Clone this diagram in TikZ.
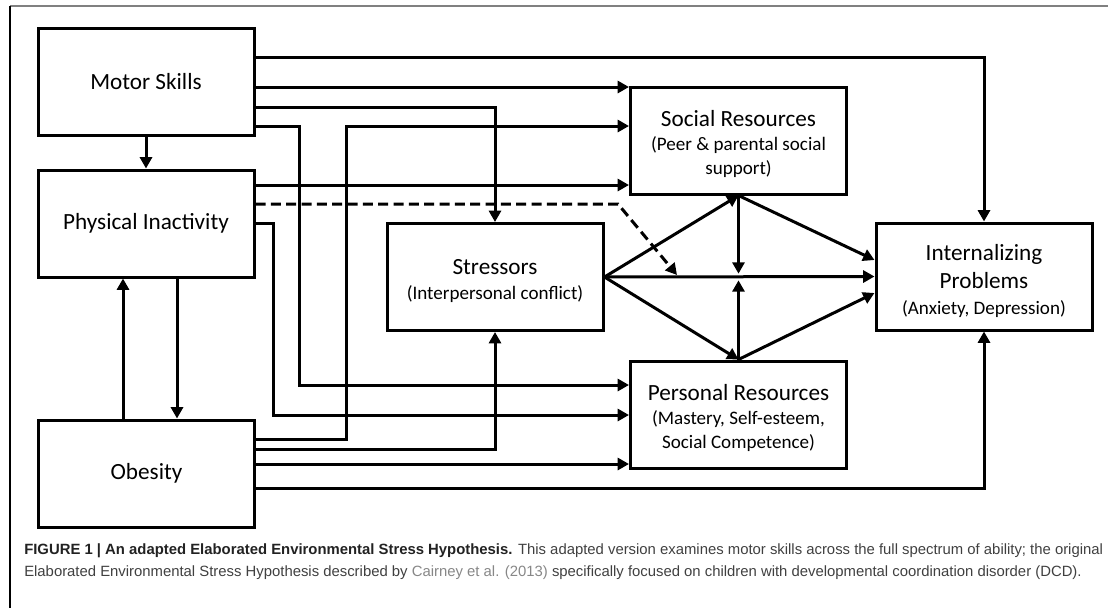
\documentclass[tikz,border=0pt]{standalone}
\usepackage{fontspec}
\setmainfont{Carlito}
\newfontfamily\capfont{Liberation Sans}
\usetikzlibrary{arrows.meta,calc}
\definecolor{framegray}{RGB}{128,128,128}
\definecolor{captext}{RGB}{64,64,64}
\definecolor{capbold}{RGB}{34,34,34}
\definecolor{citegray}{RGB}{135,135,135}
\newcommand\boxtitle{\fontsize{17.4}{20.5}\selectfont}
\newcommand\boxsub{\fontsize{14.3}{17.6}\selectfont}
% extra room above the first line of a multi-line box
\newcommand\toproom[1]{\rule{0pt}{#1}}

\begin{document}
\begin{tikzpicture}[x=0.75pt,y=-0.75pt,
  box/.style={draw, line width=2.25pt, minimum width=162pt, minimum height=80.25pt,
              align=center, inner sep=0pt, font=\boxsub},
  link/.style={line width=2.25pt},
  arr/.style={link, -{Triangle[length=8.5pt,width=9pt]}},
  moderator/.style={arr, dash pattern=on 7.5pt off 4pt}
]
\useasboundingbox (0,0) rectangle (1108,608);

% frame of the figure panel
\draw[framegray, line width=1.5pt] (10,6) -- (1108,6);
\draw[black, line width=0.9pt] (10,6) -- (10,608);

% boxes
\node[box] (ms) at (146,81.5)  {\boxtitle Motor Skills};
\node[box] (pi) at (146,223.5) {\boxtitle Physical Inactivity};
\node[box] (ob) at (146.5,473.5) {\boxtitle Obesity};
\node[box] (st) at (495,277)   {\boxtitle\toproom{17pt}Stressors\\[1.5pt] (Interpersonal conflict)};
\node[box] (sr) at (738.5,140.5) {\boxtitle\toproom{17pt}Social Resources\\[0.5pt] (Peer \& parental social\\ support)};
\node[box] (pr) at (738.5,414.5) {\boxtitle\toproom{17pt}Personal Resources\\[0.5pt] (Mastery, Self-esteem,\\ Social Competence)};
\node[box] (ip) at (984,276.5)  {\boxtitle\toproom{19pt}Internalizing\\[3pt] \boxtitle Problems\\[2pt] (Anxiety, Depression)};

% points on the stressor path
\coordinate (mid) at (sr.south |- st.east);
\coordinate (dashend) at (677,275);

% motor skills
\draw[arr] (ms.south) -- (pi.north);
\draw[arr] (ms.east |- 0,57) -| (ip.north);
\draw[arr] (ms.east |- 0,87) -- (sr.west |- 0,87);
\draw[arr] (ms.east |- 0,107) -| (st.north);
\draw[arr] (ms.east |- 0,126) -| (299,385) -- (pr.west |- 0,385);

% physical inactivity
\draw[arr] (pi.east |- 0,185) -- (sr.west |- 0,185);
\draw[moderator] (pi.east |- 0,204) -- (618,204) -- (dashend);
\draw[arr] (pi.east |- 0,223) -| (273,415) -- (pr.west |- 0,415);
\draw[arr] (pi.south -| 177,0) -- (ob.north -| 177,0);

% obesity
\draw[arr] (ob.north -| 123,0) -- (pi.south -| 123,0);
\draw[arr] (ob.east |- 0,439) -| (346,126) -- (sr.west |- 0,126);
\draw[arr] (ob.east |- 0,449) -| (st.south);
\draw[arr] (ob.east |- 0,464) -- (pr.west |- 0,464);
\draw[arr] (ob.east |- 0,488) -| (ip.south);

% stressors and resources
\draw[arr] (st.east) -- (sr.south);
\draw[arr] (st.east) -- (ip.west);
\draw[arr] (st.east) -- (pr.north);
\draw[arr] (sr.south) -- (ip.west |- 0,260);
\draw[arr] (pr.north) -- (ip.west |- 0,293);
\draw[arr, shorten >=2.5pt] (sr.south) -- (mid);
\draw[arr, shorten >=2.5pt] (pr.north) -- (mid);

% caption
\node[anchor=base west, align=left, inner sep=0pt, text=captext,
      font=\capfont\fontsize{11.15}{16}\selectfont] (caption) at (24,576)
  {{\bfseries\color{capbold}FIGURE 1 | An adapted Elaborated Environmental Stress Hypothesis.} This adapted version examines motor skills across the full spectrum of ability; the original\\
   Elaborated Environmental Stress Hypothesis described by {\color{citegray}Cairney et al. (2013)} specifically focused on children with developmental coordination disorder (DCD).};
\end{tikzpicture}
\end{document}
